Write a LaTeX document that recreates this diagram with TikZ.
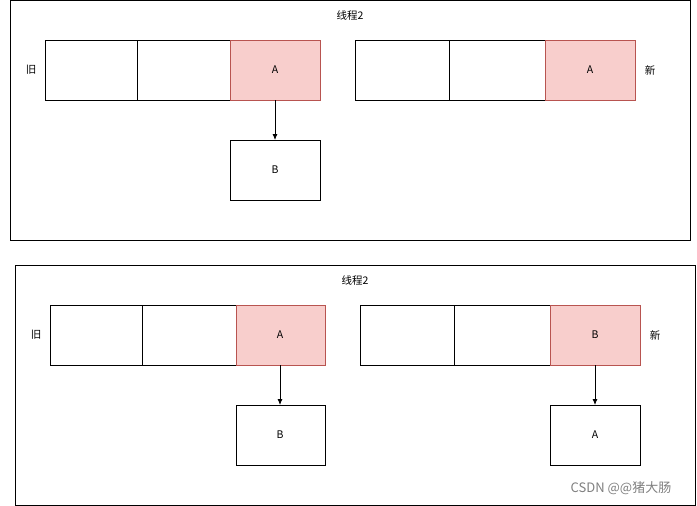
\documentclass[tikz,border=0pt]{standalone}
\usepackage{fontspec}
\usetikzlibrary{arrows.meta}
\setmainfont{Noto Sans CJK SC}
\begin{document}
\begin{tikzpicture}[x=1pt,y=-1pt,
  cell/.style={draw,fill=white,line width=0.8pt},
  red/.style={draw={rgb,255:red,184;green,84;blue,80},fill={rgb,255:red,248;green,206;blue,204},line width=0.8pt},
  lbl/.style={font=\fontsize{10.5}{12}\selectfont},
  arr/.style={-{Latex[length=6pt,width=5pt]},line width=0.8pt}]
\useasboundingbox (0,0) rectangle (697,506);
\fill[white] (0,0) rectangle (697,506);
% top frame
\draw[line width=0.8pt] (10,0) rectangle (690,240);
\node[lbl] (t1) at (350,15) {线程2};
\node[lbl] (o1) at (31,70) {旧};
\node[lbl] (n1) at (650,70) {新};
\draw[cell] (45,40) rectangle (137,100);
\draw[cell] (137,40) rectangle (230,100);
\draw[red] (230,40) rectangle (320,100);
\node[lbl] (a1) at (275,70) {A};
\draw[cell] (355,40) rectangle (449,100);
\draw[cell] (449,40) rectangle (545,100);
\draw[red] (545,40) rectangle (635,100);
\node[lbl] (a2) at (590,70) {A};
\draw[cell] (230,140) rectangle (320,200);
\node[lbl] (b1) at (275,170) {B};
\coordinate (s1) at (275,100); \coordinate (e1) at (275,140);
\draw[arr] (s1) -- (e1);
% bottom frame
\draw[line width=0.8pt] (15,265) rectangle (695,505);
\node[lbl] (t2) at (355,280) {线程2};
\node[lbl] (o2) at (36,335) {旧};
\node[lbl] (n2) at (655,335) {新};
\draw[cell] (50,305) rectangle (142,365);
\draw[cell] (142,305) rectangle (236,365);
\draw[red] (236,305) rectangle (325,365);
\node[lbl] (a3) at (280,335) {A};
\draw[cell] (360,305) rectangle (454,365);
\draw[cell] (454,305) rectangle (550,365);
\draw[red] (550,305) rectangle (640,365);
\node[lbl] (b2) at (595,335) {B};
\draw[cell] (236,405) rectangle (325,465);
\node[lbl] (b3) at (280,435) {B};
\draw[cell] (550,405) rectangle (640,465);
\node[lbl] (a4) at (595,435) {A};
\coordinate (s2) at (280,365); \coordinate (e2) at (280,405);
\draw[arr] (s2) -- (e2);
\coordinate (s3) at (595,365); \coordinate (e3) at (595,405);
\draw[arr] (s3) -- (e3);
\node[font=\fontsize{13}{14}\selectfont,text=gray] (w) at (621,488) {CSDN @@猪大肠};
\end{tikzpicture}
\end{document}
